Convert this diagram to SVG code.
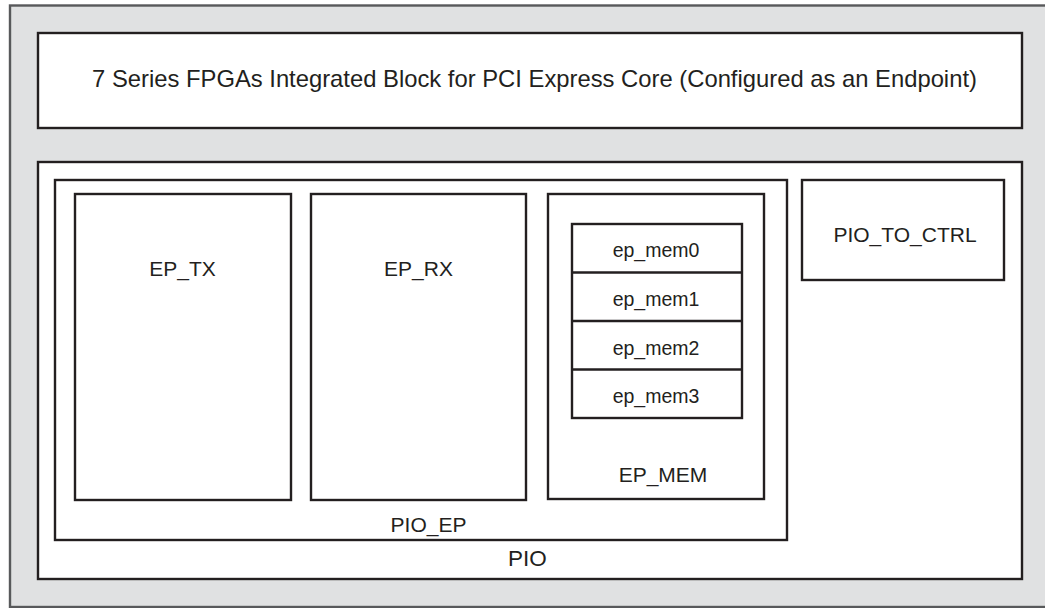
<svg xmlns="http://www.w3.org/2000/svg" width="1045" height="608" viewBox="0 0 1045 608">
  <style>
    .box { fill: #ffffff; stroke: #231f20; stroke-width: 2.4; }
    .div { fill: none; stroke: #231f20; stroke-width: 2.4; }
    .lbl { font-family: "Liberation Sans", Arial, sans-serif; fill: #231f20; text-anchor: middle; }
    .l21 { font-size: 21px; }
    .l19 { font-size: 19.5px; }
  </style>
  <rect x="0" y="0" width="1045" height="608" fill="#ffffff"/>
  <g id="frame">
    <rect x="10" y="5.5" width="1045" height="601.5" fill="#e0e1e2" stroke="#58595b" stroke-width="2.4"/>
  </g>
  <g id="core">
    <rect class="box" x="38" y="33" width="984" height="95"/>
    <text class="lbl" x="534.5" y="87" font-size="23.8">7 Series FPGAs Integrated Block for PCI Express Core (Configured as an Endpoint)</text>
  </g>
  <g id="pio">
    <rect class="box" x="38" y="162" width="984" height="417"/>
    <text class="lbl" x="527.5" y="566" font-size="22.5">PIO</text>
  </g>
  <g id="pio_ep">
    <rect class="box" x="55" y="180" width="732" height="360"/>
    <text class="lbl l21" x="428.5" y="532">PIO_EP</text>
  </g>
  <g id="ep_tx">
    <rect class="box" x="75" y="194" width="216" height="306"/>
    <text class="lbl l21" x="182.5" y="276">EP_TX</text>
  </g>
  <g id="ep_rx">
    <rect class="box" x="311" y="194" width="215" height="306"/>
    <text class="lbl l21" x="418.5" y="276">EP_RX</text>
  </g>
  <g id="ep_mem">
    <rect class="box" x="548" y="194" width="216" height="305"/>
    <text class="lbl l21" x="663" y="482">EP_MEM</text>
  </g>
  <g id="ep_mem_stack">
    <rect class="box" x="572" y="224" width="170" height="194"/>
    <line class="div" x1="572" y1="272.5" x2="742" y2="272.5"/>
    <line class="div" x1="572" y1="321" x2="742" y2="321"/>
    <line class="div" x1="572" y1="369.5" x2="742" y2="369.5"/>
  </g>
  <g id="ep_mem0"><text class="lbl l19" x="656" y="257">ep_mem0</text></g>
  <g id="ep_mem1"><text class="lbl l19" x="656" y="306">ep_mem1</text></g>
  <g id="ep_mem2"><text class="lbl l19" x="656" y="354.5">ep_mem2</text></g>
  <g id="ep_mem3"><text class="lbl l19" x="656" y="403">ep_mem3</text></g>
  <g id="pio_to_ctrl">
    <rect class="box" x="802" y="180" width="202" height="100"/>
    <text class="lbl l21" x="905" y="242">PIO_TO_CTRL</text>
  </g>
  <g id="connectors"></g>
</svg>
